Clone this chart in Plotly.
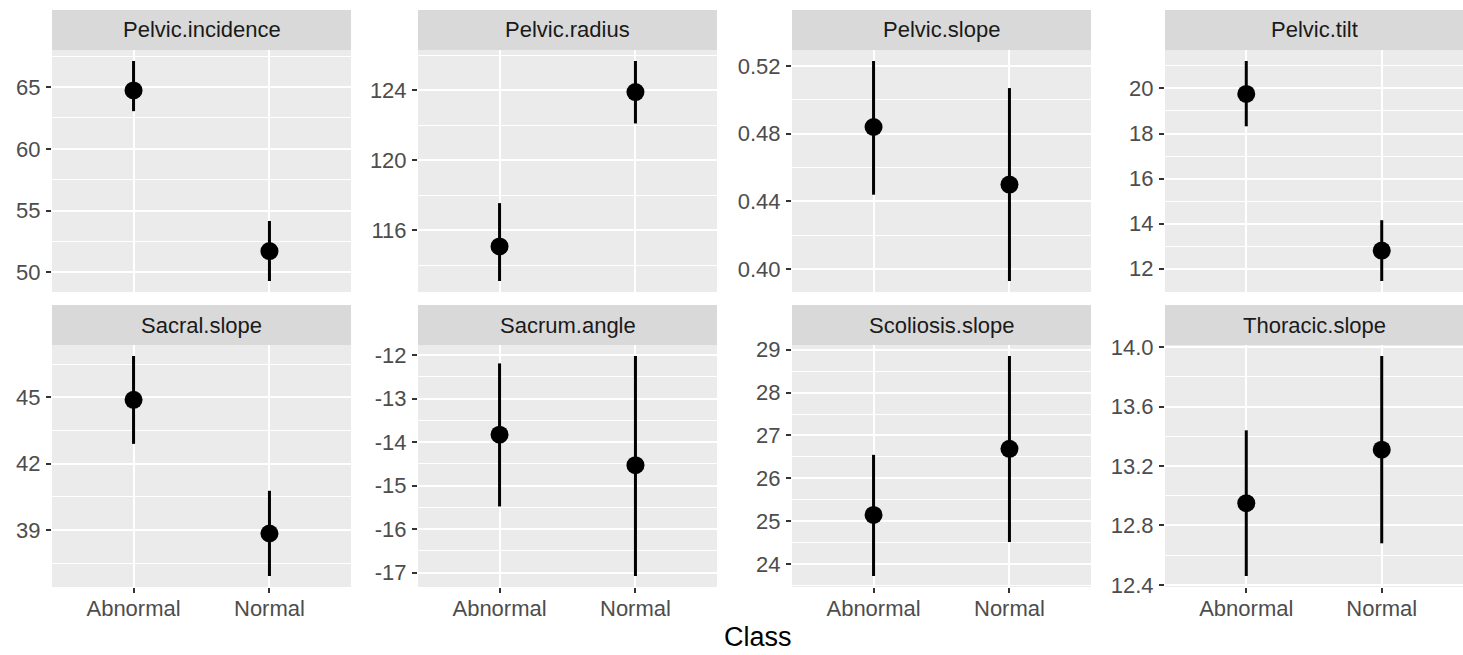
import math
import plotly.graph_objects as go

# Class means with lower/upper interval bounds for each measure
measures = ["Pelvic.incidence", "Pelvic.radius", "Pelvic.slope", "Pelvic.tilt",
            "Sacral.slope", "Sacrum.angle", "Scoliosis.slope", "Thoracic.slope"]
classes = ["Abnormal", "Normal"]

abnormal_mean = [64.73, 115.09, 0.484, 19.76, 44.89, -13.83, 25.15, 12.95]
abnormal_low = [63.05, 113.12, 0.444, 18.32, 42.90, -15.48, 23.73, 12.46]
abnormal_high = [67.11, 117.56, 0.523, 21.22, 46.87, -12.19, 26.55, 13.44]

normal_mean = [51.72, 123.89, 0.450, 12.80, 38.85, -14.53, 26.69, 13.31]
normal_low = [49.30, 122.10, 0.393, 11.45, 36.93, -17.08, 24.52, 12.68]
normal_high = [54.16, 125.66, 0.507, 14.15, 40.78, -12.02, 28.85, 13.94]

y_step = [5, 4, 0.04, 2, 3, 1, 1, 0.4]
y_decimals = [0, 0, 2, 0, 0, 0, 0, 1]

W, H = 1463, 655
col_px = [(52, 351), (418, 717), (792, 1091), (1165, 1463)]
row_px = [(50, 292), (345, 587)]      # panel top/bottom
strip_h = 40

FONT = "Liberation Sans, Arial, Helvetica, sans-serif"
PANEL_BG = "#EBEBEB"
STRIP_BG = "#D9D9D9"
TICK_SIZE = 22


def ticks_in(lo, hi, step, dec):
    """Major tick positions inside [lo, hi] with plain hyphen-minus labels."""
    k0 = math.ceil(lo / step - 1e-9)
    k1 = math.floor(hi / step + 1e-9)
    vals = [round(k * step, 6) for k in range(k0, k1 + 1)]
    text = [f"{v:.{dec}f}" for v in vals]
    return vals, text


fig = go.Figure()
shapes = []
annotations = []

for i, name in enumerate(measures):
    r, c = divmod(i, 4)
    ax = "" if i == 0 else str(i + 1)
    x0p, x1p = col_px[c]
    top, bot = row_px[r]

    means = [abnormal_mean[i], normal_mean[i]]
    lows = [abnormal_low[i], normal_low[i]]
    highs = [abnormal_high[i], normal_high[i]]

    fig.add_trace(go.Scatter(
        x=classes, y=means, mode="markers",
        marker=dict(color="black", size=18),
        error_y=dict(type="data", symmetric=False,
                     array=[h - m for h, m in zip(highs, means)],
                     arrayminus=[m - l for m, l in zip(means, lows)],
                     color="black", thickness=3, width=0),
        xaxis="x" + ax, yaxis="y" + ax, showlegend=False,
    ))

    lo, hi = min(lows), max(highs)
    pad = (hi - lo) * 0.05
    ylo, yhi = lo - pad, hi + pad
    tvals, ttext = ticks_in(ylo, yhi, y_step[i], y_decimals[i])
    mvals = [round(v + y_step[i] / 2, 6) for v in [tvals[0] - y_step[i]] + tvals]

    xdom = [x0p / W, x1p / W]
    ydom = [1 - bot / H, 1 - top / H]
    bottom_row = r == 1

    fig.layout["xaxis" + ax] = dict(
        domain=xdom, anchor="y" + ax, type="category", automargin=False,
        range=[-0.6, 1.6], showgrid=True, gridcolor="white", gridwidth=2,
        zeroline=False, showline=False,
        showticklabels=bottom_row, ticks="outside" if bottom_row else "",
        ticklen=5, tickwidth=1.6, tickcolor="#333333", ticklabelstandoff=-3,
        tickfont=dict(family=FONT, size=TICK_SIZE, color="#4D4D4D"),
    )
    fig.layout["yaxis" + ax] = dict(
        domain=ydom, anchor="x" + ax, range=[ylo, yhi], automargin=False,
        tickmode="array", tickvals=tvals, ticktext=ttext,
        showgrid=True, gridcolor="white", gridwidth=2,
        minor=dict(tickmode="array", tickvals=mvals, showgrid=True,
                   gridcolor="white", gridwidth=1, ticks=""),
        zeroline=False, showline=False,
        ticks="outside", ticklen=5, tickwidth=1.6, tickcolor="#333333",
        ticklabelstandoff=1,
        tickfont=dict(family=FONT, size=TICK_SIZE, color="#4D4D4D"),
    )

    # strip header above each panel
    shapes.append(dict(type="rect", xref="paper", yref="paper",
                       x0=xdom[0], x1=xdom[1],
                       y0=1 - top / H, y1=1 - (top - strip_h) / H,
                       fillcolor=STRIP_BG, line=dict(width=0), layer="below"))
    annotations.append(dict(text=name, xref="paper", yref="paper",
                            x=(xdom[0] + xdom[1]) / 2,
                            y=1 - (top - strip_h / 2) / H,
                            xanchor="center", yanchor="middle", showarrow=False,
                            font=dict(family=FONT, size=TICK_SIZE, color="#1A1A1A")))

annotations.append(dict(text="Class", xref="paper", yref="paper",
                        x=(52 + 1464) / 2 / W, y=1 - 637 / H,
                        xanchor="center", yanchor="middle", showarrow=False,
                        font=dict(family=FONT, size=27, color="black")))

fig.update_layout(
    width=W, height=H, margin=dict(l=0, r=0, t=0, b=0, autoexpand=False),
    paper_bgcolor="white", plot_bgcolor=PANEL_BG,
    shapes=shapes, annotations=annotations, showlegend=False,
)

fig.write_html("out.html")
